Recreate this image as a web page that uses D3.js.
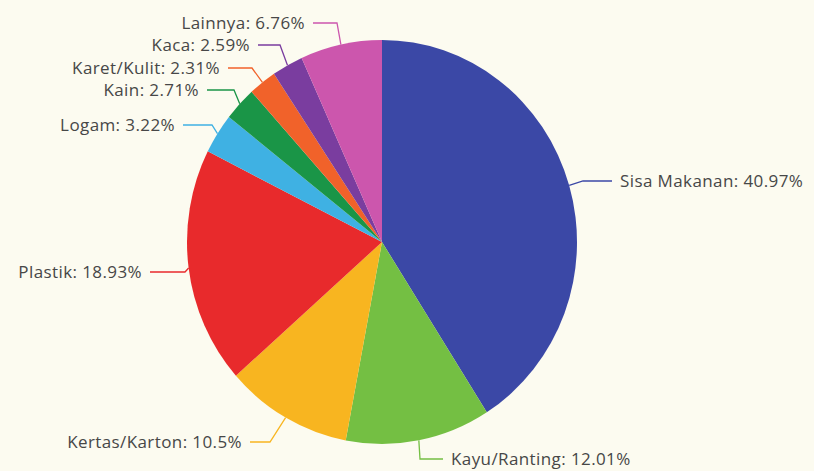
<!DOCTYPE html>
<html>
<head>
<meta charset="utf-8">
<script src="https://cdn.jsdelivr.net/npm/d3@7"></script>
<style>
  html, body { margin: 0; padding: 0; background: #fcfbf0; }
  svg { display: block; }
  text { font-family: "Open Sans", sans-serif; fill: #474747; }
</style>
</head>
<body>
<svg id="chart"></svg>
<script>
// data
var categories = ["Sisa Makanan", "Kayu/Ranting", "Kertas/Karton", "Plastik", "Logam",
                  "Kain", "Karet/Kulit", "Kaca", "Lainnya"];
var values = [40.97, 12.01, 10.5, 18.93, 3.22, 2.71, 2.31, 2.59, 6.76];
var valueLabels = ["40.97%", "12.01%", "10.5%", "18.93%", "3.22%", "2.71%", "2.31%", "2.59%", "6.76%"];
var colors = ["#3b48a6", "#74bf43", "#f8b520", "#e82a2c", "#3fb1e3",
              "#1a9547", "#f1622a", "#7a3d9f", "#cc56ad"];

// label layout (y of the label row, x where the leader bends, x where it ends)
var labelY  = [181, 459, 442, 272, 125, 90, 68, 45, 23];
var elbowX  = [583, 420, 270, 185, 212, 234, 252, 280, 337];
var lineEnd = [612, 443, 250, 150, 183, 207, 228, 258, 313];

var width = 814, height = 471,
    cx = 382, cy = 242,
    r = 202, sx = 195 / 202;

var svg = d3.select("#chart").attr("width", width).attr("height", height);

var pie = d3.pie().sort(null).value(function(d) { return d; });
var arc = d3.arc().innerRadius(0).outerRadius(r);
var arcs = pie(values);

var g = svg.append("g")
    .attr("transform", "translate(" + cx + "," + cy + ") scale(" + sx + ",1)");

g.selectAll("path")
  .data(arcs)
  .enter().append("path")
    .attr("d", arc)
    .attr("fill", function(d, i) { return colors[i]; });

// leader lines + labels
var lab = svg.append("g");

arcs.forEach(function(d, i) {
  var a = (d.startAngle + d.endAngle) / 2;
  var px = cx + Math.sin(a) * r * sx,
      py = cy - Math.cos(a) * r;
  var pts = [[px, py], [elbowX[i], labelY[i]], [lineEnd[i], labelY[i]]];

  lab.append("path")
      .attr("d", d3.line()(pts))
      .attr("fill", "none")
      .attr("stroke", colors[i])
      .attr("stroke-width", 1.3);

  var right = lineEnd[i] > elbowX[i];
  lab.append("text")
      .attr("x", right ? lineEnd[i] + 8 : lineEnd[i] - 8)
      .attr("y", labelY[i])
      .attr("dy", "0.35em")
      .attr("text-anchor", right ? "start" : "end")
      .style("font-size", "17px")
      .style("letter-spacing", "0.4px")
      .text(categories[i] + ": " + valueLabels[i]);
});
</script>
</body>
</html>
